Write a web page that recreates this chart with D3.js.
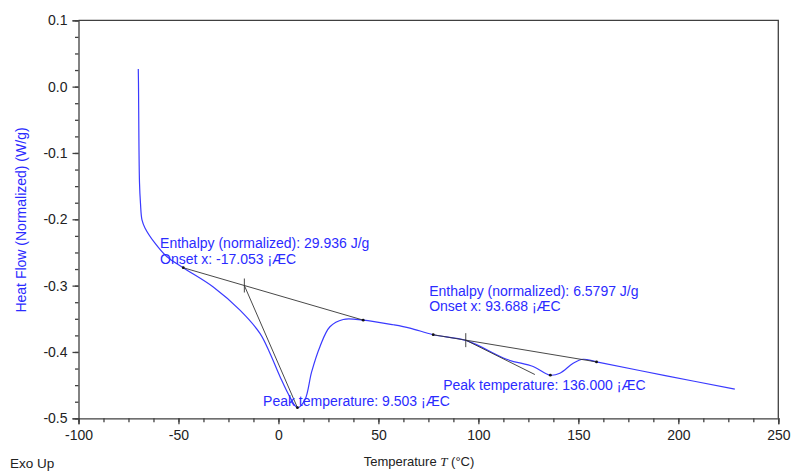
<html>
<head>
<meta charset="UTF-8">
<script src="https://d3js.org/d3.v7.min.js"></script>
<style>
    body { margin: 0; background: #fff; }
    svg { display: block; font-family: "Liberation Sans", Arial, sans-serif; }
    .axis path, .axis line { stroke: #404040; stroke-width: 1.3; }
    .axis text { fill: #222; font-size: 14px; }
    .note { fill: #2b2bff; font-size: 14px; }
</style>
</head>
<body>
<svg width="791" height="471"></svg>
<script>
    // DSC trace
    const temperature = [-70.1, -70.0, -69.5, -69.0, -68.25, -66.75, -61.75, -55.9, -47.6, -32.6,
        -19.25, -9.25, -4.25, 0.75, 5.75, 9.5, 13.25, 16.6, 20.75, 25.75,
        32.4, 42.4, 57.4, 65.75, 77.4, 94.1, 114.1, 127.4, 136.0, 140.75,
        147.4, 152.4, 159.1, 194.1, 228.25];
    const heatFlow = [0.0265, 0.005, -0.144, -0.176, -0.201, -0.213, -0.236, -0.256, -0.273, -0.302,
        -0.337, -0.372, -0.402, -0.437, -0.468, -0.484, -0.472, -0.430, -0.392, -0.362,
        -0.351, -0.352, -0.359, -0.364, -0.374, -0.383, -0.411, -0.422, -0.435, -0.432,
        -0.417, -0.411, -0.415, -0.436, -0.456];

    // peak analysis lines
    const baseline1 = [[-47.6, -0.273], [42.4, -0.352]];
    const tangent1 = [[-17.053, -0.2998], [9.503, -0.484]];
    const baseline2 = [[77.4, -0.374], [159.1, -0.415]];
    const tangent2 = [[93.688, -0.3822], [128.25, -0.434]];
    const dots = [[-47.6, -0.273], [42.4, -0.352], [9.503, -0.484],
                  [77.4, -0.374], [159.1, -0.415], [136.0, -0.435]];
    const onsets = [[-17.053, -0.2998], [93.688, -0.3822]];

    const notes = [
        {x: -59.2, y: -0.2435, t: "Enthalpy (normalized): 29.936 J/g"},
        {x: -59.2, y: -0.2675, t: "Onset x: -17.053 ¡ÆC"},
        {x: -7.7, y: -0.481, t: "Peak temperature: 9.503 ¡ÆC"},
        {x: 75.4, y: -0.3155, t: "Enthalpy (normalized): 6.5797 J/g"},
        {x: 75.4, y: -0.3385, t: "Onset x: 93.688 ¡ÆC"},
        {x: 82.4, y: -0.458, t: "Peak temperature: 136.000 ¡ÆC"}
    ];

    const xTicks = [-100, -50, 0, 50, 100, 150, 200, 250];
    const yTicks = [0.1, 0.0, -0.1, -0.2, -0.3, -0.4, -0.5];

    const margin = {top: 20.3, left: 78.5},
          width = 699.8,
          height = 398;

    const svg = d3.select("svg");
    const g = svg.append("g").attr("transform", `translate(${margin.left},${margin.top})`);

    const x = d3.scaleLinear().domain([-100, 250]).range([0, width]);
    const y = d3.scaleLinear().domain([-0.5, 0.1]).range([height, 0]);

    // frame top and right
    g.append("path")
        .attr("d", `M0,0H${width}V${height}`)
        .attr("fill", "none")
        .attr("stroke", "#404040")
        .attr("stroke-width", 1.3);

    // minor ticks
    g.append("g").attr("class", "axis")
        .attr("transform", `translate(0,${height})`)
        .call(d3.axisBottom(x).tickValues(d3.range(-100, 250.1, 12.5)).tickSize(4).tickFormat(""))
        .select(".domain").remove();
    g.append("g").attr("class", "axis")
        .call(d3.axisLeft(y).tickValues(d3.range(-0.5, 0.1001, 0.025)).tickSize(3.5).tickFormat(""))
        .select(".domain").remove();

    // major ticks
    g.append("g").attr("class", "axis")
        .attr("transform", `translate(0,${height})`)
        .call(d3.axisBottom(x).tickValues(xTicks).tickSizeOuter(0).tickSize(6).tickPadding(6)
            .tickFormat(d => String(d)));
    g.append("g").attr("class", "axis")
        .call(d3.axisLeft(y).tickValues(yTicks).tickSizeOuter(0).tickSize(6).tickPadding(5)
            .tickFormat(d => d.toFixed(1)));

    // curve
    const line = d3.line()
        .x(d => x(d[0]))
        .y(d => y(d[1]))
        .curve(d3.curveCatmullRom.alpha(0.5));
    g.append("path")
        .datum(d3.zip(temperature, heatFlow))
        .attr("d", line)
        .attr("fill", "none")
        .attr("stroke", "#3a3aff")
        .attr("stroke-width", 1.2);

    const straight = d3.line().x(d => x(d[0])).y(d => y(d[1]));
    [baseline1, tangent1, baseline2, tangent2].forEach(seg => {
        g.append("path")
            .attr("d", straight(seg))
            .attr("fill", "none")
            .attr("stroke", "#333")
            .attr("stroke-width", 0.9);
    });

    g.selectAll(".onset")
        .data(onsets)
        .enter().append("line")
        .attr("x1", d => x(d[0])).attr("x2", d => x(d[0]))
        .attr("y1", d => y(d[1]) - 7).attr("y2", d => y(d[1]) + 7)
        .attr("stroke", "#333")
        .attr("stroke-width", 0.9);

    g.selectAll(".dot")
        .data(dots)
        .enter().append("circle")
        .attr("cx", d => x(d[0]))
        .attr("cy", d => y(d[1]))
        .attr("r", 1.4)
        .attr("fill", "#111");

    g.selectAll(".note")
        .data(notes)
        .enter().append("text")
        .attr("class", "note")
        .attr("x", d => x(d.x))
        .attr("y", d => y(d.y))
        .text(d => d.t);

    // axis titles
    svg.append("text")
        .attr("transform", "translate(26,220) rotate(-90)")
        .attr("text-anchor", "middle")
        .attr("fill", "#2b2bff")
        .style("font-size", "14px")
        .text("Heat Flow (Normalized) (W/g)");

    const xt = svg.append("text")
        .attr("x", 419)
        .attr("y", 466)
        .attr("text-anchor", "middle")
        .attr("fill", "#222")
        .style("font-size", "13px");
    xt.append("tspan").text("Temperature ");
    xt.append("tspan").style("font-family", "'Liberation Serif', serif").style("font-style", "italic").text("T");
    xt.append("tspan").text(" (°C)");

    svg.append("text")
        .attr("x", 10)
        .attr("y", 468)
        .attr("fill", "#222")
        .style("font-size", "13.5px")
        .text("Exo Up");
</script>
</body>
</html>
